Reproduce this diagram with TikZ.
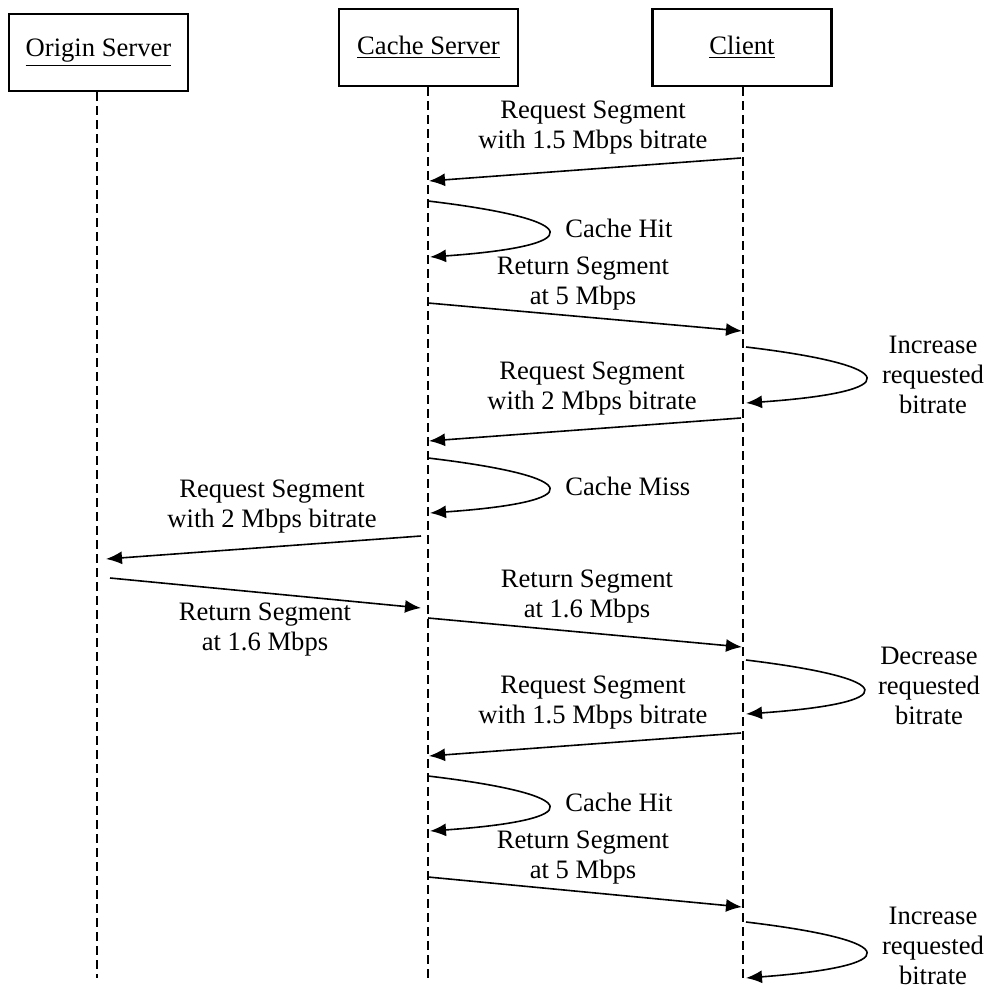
\documentclass[tikz,border=0pt]{standalone}
\usepackage{fontspec}
\setmainfont{Liberation Serif}
\usetikzlibrary{arrows.meta}
\begin{document}
\begin{tikzpicture}[x=0.5pt,y=-0.5pt,
  txt/.style={font=\fontsize{13.3}{15}\selectfont},
  actor/.style={draw,line width=1.1pt,minimum width=89.5pt,minimum height=38.5pt,inner sep=0pt,txt},
  lifeline/.style={line width=0.8pt,dash pattern=on 4.5pt off 2.5pt},
  msg/.style={line width=0.8pt,-{Latex[length=8pt,width=6.5pt]}},
  lbl/.style={align=center,inner sep=0pt,txt}]
\useasboundingbox (0,0) rectangle (989,990);

% participants
\node[actor] (origin) at (98.5,52.5) {\underline{Origin Server}};
\node[actor] (cache)  at (428.5,47.5) {\underline{Cache Server}};
\node[actor] (client) at (742,47.5) {\underline{Client}};

% lifelines
\coordinate (originEnd) at (97,978);
\coordinate (cacheEnd)  at (428,978);
\coordinate (clientEnd) at (743,978);
\draw[lifeline] (origin.south -| originEnd) -- (originEnd);
\draw[lifeline] (cache.south -| cacheEnd) -- (cacheEnd);
\draw[lifeline] (client.south -| clientEnd) -- (clientEnd);

% request 1.5 Mbps
\coordinate (a1) at (741,158); \coordinate (b1) at (429,181);
\draw[msg] (a1) -- (b1);
\node[lbl] (t1) at (593,128) {Request Segment\\with 1.5 Mbps bitrate};

% cache hit
\coordinate (a2) at (428,201); \coordinate (b2) at (430,257);
\draw[msg] (a2) .. controls (588,220) and (588,246) .. (b2);
\node[lbl,anchor=west] (t2) at (565,228) {Cache Hit};

% return 5 Mbps
\coordinate (a3) at (428,303); \coordinate (b3) at (742,331);
\draw[msg] (a3) -- (b3);
\node[lbl] (t3) at (583,284) {Return Segment\\at 5 Mbps};

% increase requested bitrate
\coordinate (a4) at (746,347); \coordinate (b4) at (746,403);
\draw[msg] (a4) .. controls (905,366) and (905,392) .. (b4);
\node[lbl] (t4) at (933,375) {Increase\\requested\\bitrate};

% request 2 Mbps
\coordinate (a5) at (741,418); \coordinate (b5) at (429,441);
\draw[msg] (a5) -- (b5);
\node[lbl] (t5) at (592,389) {Request Segment\\with 2 Mbps bitrate};

% cache miss
\coordinate (a6) at (428,458); \coordinate (b6) at (430,513);
\draw[msg] (a6) .. controls (588,477) and (588,502) .. (b6);
\node[lbl,anchor=west] (t6) at (565,486) {Cache Miss};

% request to origin
\coordinate (a7) at (421,536); \coordinate (b7) at (106,559);
\draw[msg] (a7) -- (b7);
\node[lbl] (t7) at (272,507) {Request Segment\\with 2 Mbps bitrate};

% return from origin
\coordinate (a8) at (110,578); \coordinate (b8) at (421,608);
\draw[msg] (a8) -- (b8);
\node[lbl] (t8) at (265,630) {Return Segment\\at 1.6 Mbps};

% return 1.6 Mbps to client
\coordinate (a9) at (428,618); \coordinate (b9) at (742,647);
\draw[msg] (a9) -- (b9);
\node[lbl] (t9) at (587,597) {Return Segment\\at 1.6 Mbps};

% decrease requested bitrate
\coordinate (a10) at (746,660); \coordinate (b10) at (746,714);
\draw[msg] (a10) .. controls (902,679) and (902,703) .. (b10);
\node[lbl] (t10) at (929,686) {Decrease\\requested\\bitrate};

% request 1.5 Mbps
\coordinate (a11) at (741,733); \coordinate (b11) at (429,756);
\draw[msg] (a11) -- (b11);
\node[lbl] (t11) at (593,703) {Request Segment\\with 1.5 Mbps bitrate};

% cache hit
\coordinate (a12) at (428,776); \coordinate (b12) at (430,831);
\draw[msg] (a12) .. controls (588,795) and (588,820) .. (b12);
\node[lbl,anchor=west] (t12) at (565,802) {Cache Hit};

% return 5 Mbps
\coordinate (a13) at (428,877); \coordinate (b13) at (742,907);
\draw[msg] (a13) -- (b13);
\node[lbl] (t13) at (583,858) {Return Segment\\at 5 Mbps};

% increase requested bitrate
\coordinate (a14) at (746,922); \coordinate (b14) at (746,978);
\draw[msg] (a14) .. controls (905,941) and (905,966) .. (b14);
\node[lbl] (t14) at (933,946) {Increase\\requested\\bitrate};
\end{tikzpicture}
\end{document}
